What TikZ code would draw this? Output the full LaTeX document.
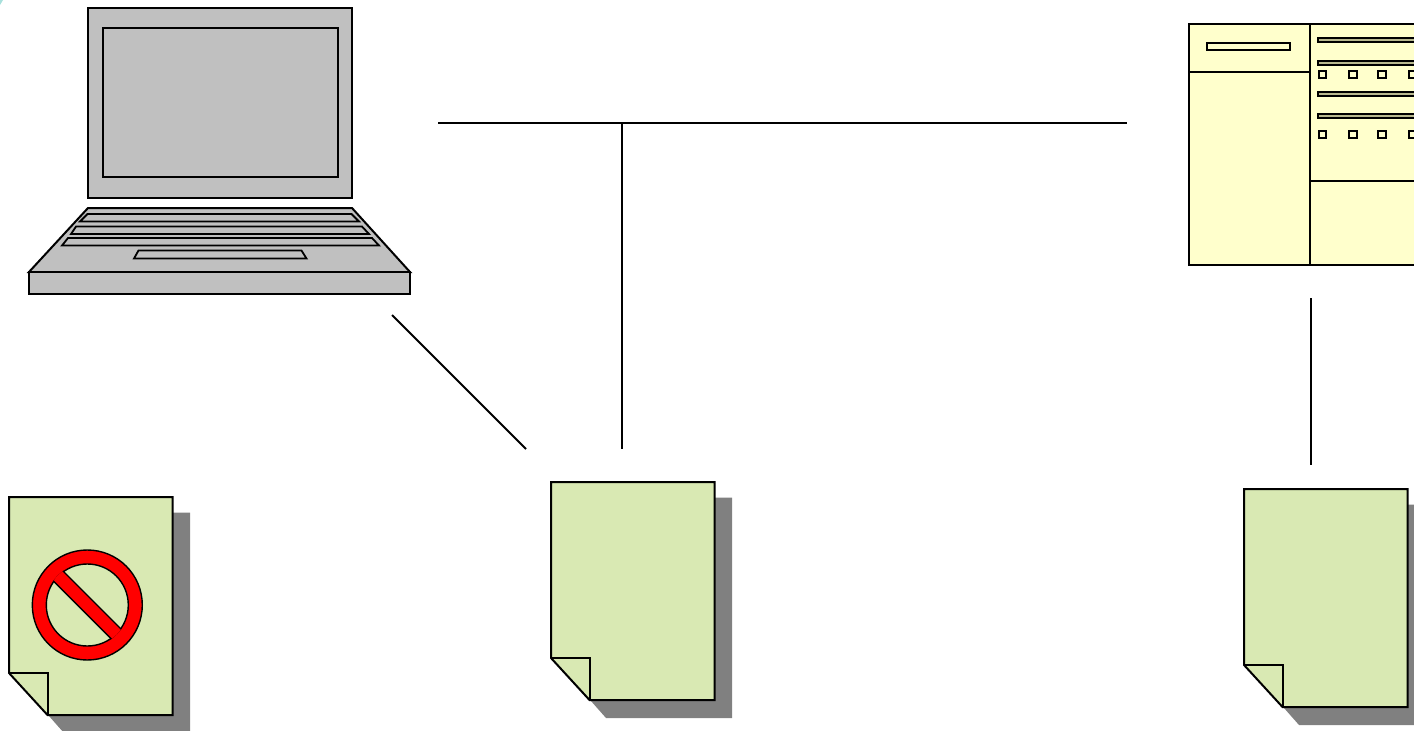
\documentclass[tikz,border=0pt]{standalone}
\usepackage{tikz}
\definecolor{docgreen}{HTML}{D9E9B3}
\definecolor{serveryellow}{HTML}{FFFFCC}
\definecolor{keygray}{HTML}{C0C0C0}
\definecolor{slotgray}{HTML}{B9B98F}
\definecolor{shadowgray}{HTML}{808080}
\definecolor{cornerteal}{HTML}{A8E0DC}

\begin{document}
\begin{tikzpicture}
  [x=1pt,y=-1pt,line width=2pt,line join=miter,
   laptoppart/.style={draw=black,fill=keygray},
   keyrow/.style={draw=black,fill=keygray,line width=1.8pt},
   serverpart/.style={draw=black,fill=serveryellow},
   slot/.style={draw=black,fill=serveryellow,line width=2pt},
   signpart/.style={draw=black,line width=1.4pt},
   pics/docicon/.style={code={
     \fill [shadowgray] (17,15.5) -- (181,15.5) -- (181,236) -- (55,236) -- (17,193) -- cycle;
     \draw [fill=docgreen] (0,0) -- (163.5,0) -- (163.5,218) -- (38.5,218) -- (0,176) -- cycle;
     \draw (0,176) -- (38.5,176) -- (38.5,218);
   }}]

  \useasboundingbox (0,0) rectangle (1414,731);
  \clip (0,0) rectangle (1414,731);
  \fill [cornerteal] (0,0) -- (3,0) -- (0,5) -- cycle;

  % laptop
  \draw [laptoppart] (88,8) rectangle (352,198);
  \draw [laptoppart] (103,28) rectangle (338,177);
  \draw [laptoppart] (88,208) -- (352,208) -- (410,272) -- (29,272) -- cycle;
  \draw [laptoppart] (29,272) rectangle (410,294);
  \draw [keyrow] (87.5,214) -- (351.5,214) -- (359,221.5) -- (80,221.5) -- cycle;
  \draw [keyrow] (76,226.5) -- (362,226.5) -- (369,234) -- (71,234) -- cycle;
  \draw [keyrow] (68,238) -- (372,238) -- (379,245.5) -- (62,245.5) -- cycle;
  \draw [keyrow] (138.5,250.5) -- (301.5,250.5) -- (306.5,258.5) -- (134,258.5) -- cycle;

  % server
  \draw [serverpart] (1189,24) rectangle (1440,264.5);
  \draw (1310,24) -- (1310,264.5);
  \draw (1189,72) -- (1310,72);
  \draw (1310,181) -- (1440,181);
  \draw [slot] (1207,43) rectangle (1290,50);
  \foreach \y in {38.2,61,92,114.2}
    \draw [slot,fill=slotgray] (1318,\y) rectangle (1440,\y+3.5);
  \foreach \y in {71,131}
    \foreach \x in {1318.5,1349,1378,1408.5}
      \draw [slot] (\x,\y) rectangle (\x+7.5,\y+7);

  % documents
  \pic at (9,497) {docicon};
  \pic at (551,482) {docicon};
  \pic at (1244,489) {docicon};

  % no entry sign
  \coordinate (signc) at (87.3,605);
  \draw [signpart,fill=red] (signc) circle [radius=55];
  \draw [signpart,fill=docgreen] (signc) circle [radius=41];
  \begin{scope}
    \clip (signc) circle [radius=41.7];
    \draw [signpart,fill=red] (47.4,575) -- (57.2,565.2) -- (127.2,635.2) -- (117.4,645) -- cycle;
  \end{scope}

  % connectors
  \coordinate (busl) at (438,123);
  \coordinate (busr) at (1127,123);
  \coordinate (bust) at (622,123);
  \coordinate (docmt) at (622,449);
  \coordinate (laptopb) at (392,315);
  \coordinate (docml) at (526,449);
  \coordinate (serverb) at (1311,298);
  \coordinate (docrt) at (1311,465);

  \draw (busl) edge (busr) (bust) edge (docmt) (laptopb) edge (docml) (serverb) edge (docrt);
\end{tikzpicture}
\end{document}
